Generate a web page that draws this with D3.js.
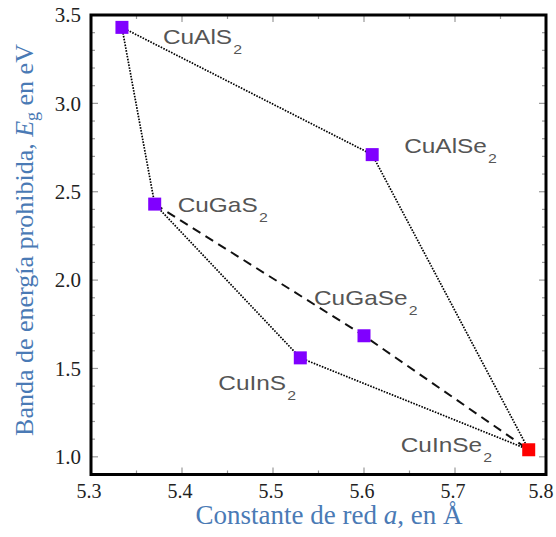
<!DOCTYPE html>
<html><head><meta charset="utf-8">
<script src="https://cdn.jsdelivr.net/npm/d3@7"></script>
<style>body{margin:0;background:#fff}</style>
</head><body>
<svg id="c" width="556" height="537"></svg>
<script>
const compounds = ["CuAlS2","CuAlSe2","CuGaS2","CuGaSe2","CuInS2","CuInSe2"];
const latticeA = [5.334, 5.609, 5.370, 5.600, 5.530, 5.781];
const bandGap  = [3.43, 2.71, 2.43, 1.685, 1.56, 1.04];
const xTicks = [5.3,5.4,5.5,5.6,5.7,5.8];
const yTicks = [1.0,1.5,2.0,2.5,3.0,3.5];
const dottedPaths = [["CuAlS2","CuAlSe2","CuInSe2"],["CuAlS2","CuGaS2","CuInS2","CuInSe2"]];
const dashedPaths = [["CuGaS2","CuGaSe2","CuInSe2"]];

const svg = d3.select("#c");
const L=91, R=546, T=15, B=474.5;
const x = d3.scaleLinear().domain([5.3,5.8]).range([L,R]);
const y = d3.scaleLinear().domain([0.9,3.5]).range([B,T]);
const pt = {};
compounds.forEach((c,i)=>pt[c]=[latticeA[i],bandGap[i]]);

// ticks
const tickCol="#999";
const g = svg.append("g");
const yMinor = d3.range(10,36).map(v=>v/10);
yMinor.forEach(v=>{
  const major = Math.abs(v*2-Math.round(v*2))<1e-6;
  const len = major?7:4;
  g.append("line").attr("x1",L).attr("x2",L+len).attr("y1",y(v)).attr("y2",y(v)).attr("stroke",tickCol).attr("stroke-width",1.2);
  g.append("line").attr("x1",R).attr("x2",R-len).attr("y1",y(v)).attr("y2",y(v)).attr("stroke",tickCol).attr("stroke-width",1.2);
});
const xMinor = d3.range(106,117).map(v=>v/20);
xMinor.forEach(v=>{
  const major = Math.abs(v*10-Math.round(v*10))<1e-6;
  const len = major?7:4;
  g.append("line").attr("x1",x(v)).attr("x2",x(v)).attr("y1",B).attr("y2",B-len).attr("stroke",tickCol).attr("stroke-width",1.2);
  g.append("line").attr("x1",x(v)).attr("x2",x(v)).attr("y1",T).attr("y2",T+len).attr("stroke",tickCol).attr("stroke-width",1.2);
});

// tick labels
svg.append("g").selectAll("text").data(yTicks).join("text")
  .attr("x",L-10).attr("y",d=>y(d)).attr("dy","0.35em").attr("text-anchor","end")
  .attr("font-family","Liberation Serif, Times New Roman, serif").attr("font-size",21).attr("fill","#222")
  .text(d=>d.toFixed(1));
svg.append("g").selectAll("text").data(xTicks).join("text")
  .attr("x",d=>Math.min(x(d)-2,541)).attr("y",498).attr("text-anchor","middle")
  .attr("font-family","Liberation Serif, Times New Roman, serif").attr("font-size",20).attr("fill","#222")
  .text(d=>d.toFixed(1));

// frame
svg.append("rect").attr("x",L).attr("y",T).attr("width",R-L).attr("height",B-T)
  .attr("fill","none").attr("stroke","#000").attr("stroke-width",3);

// lines
const line = d3.line().x(d=>x(pt[d][0])).y(d=>y(pt[d][1]));
dottedPaths.forEach(p=>svg.append("path").attr("d",line(p)).attr("fill","none").attr("stroke","#000").attr("stroke-width",1.7).attr("stroke-dasharray","1.6,1.3"));
dashedPaths.forEach(p=>svg.append("path").attr("d",line(p)).attr("fill","none").attr("stroke","#111").attr("stroke-width",2).attr("stroke-dasharray","9,6"));

// markers
const ms=13;
svg.append("g").selectAll("rect").data(compounds).join("rect")
  .attr("x",d=>x(pt[d][0])-ms/2).attr("y",d=>y(pt[d][1])-ms/2).attr("width",ms).attr("height",ms)
  .attr("fill",d=>d==="CuInSe2"?"#ff0000":"#8000ff");

// labels
const labelOffsets = {CuAlS2:[41,17],CuAlSe2:[32,-2],CuGaS2:[23,8],CuGaSe2:[-50,-31],CuInS2:[-82,32],CuInSe2:[-128,2]};
compounds.forEach(c=>{
  const [dx,dy]=labelOffsets[c];
  const t = svg.append("text")
    .attr("transform",`translate(${x(pt[c][0])+dx},${y(pt[c][1])+dy}) scale(1.22,1)`)
    .attr("font-family","Liberation Sans, Arial, sans-serif").attr("font-size",20).attr("fill","#555");
  t.append("tspan").text(c.slice(0,-1));
  t.append("tspan").attr("font-size",13).attr("dy",10).attr("dx",1).text("2");
});

// axis titles
const blue="#4a7ab5";
const xt = svg.append("text").attr("x",329).attr("y",524).attr("text-anchor","middle")
  .attr("font-family","Liberation Serif, Times New Roman, serif").attr("font-size",27).attr("fill",blue);
xt.append("tspan").text("Constante de red ");
xt.append("tspan").attr("font-style","italic").text("a");
xt.append("tspan").text(", en Å");
const yt = svg.append("text").attr("transform","translate(33,240) rotate(-90)").attr("text-anchor","middle")
  .attr("font-family","Liberation Serif, Times New Roman, serif").attr("font-size",26).attr("fill",blue);
yt.append("tspan").text("Banda de energía prohibida, ");
yt.append("tspan").attr("font-style","italic").text("E");
yt.append("tspan").attr("font-size",18).attr("dy",5).text("g");
yt.append("tspan").attr("dy",-5).text(" en eV");
</script>
</body></html>
